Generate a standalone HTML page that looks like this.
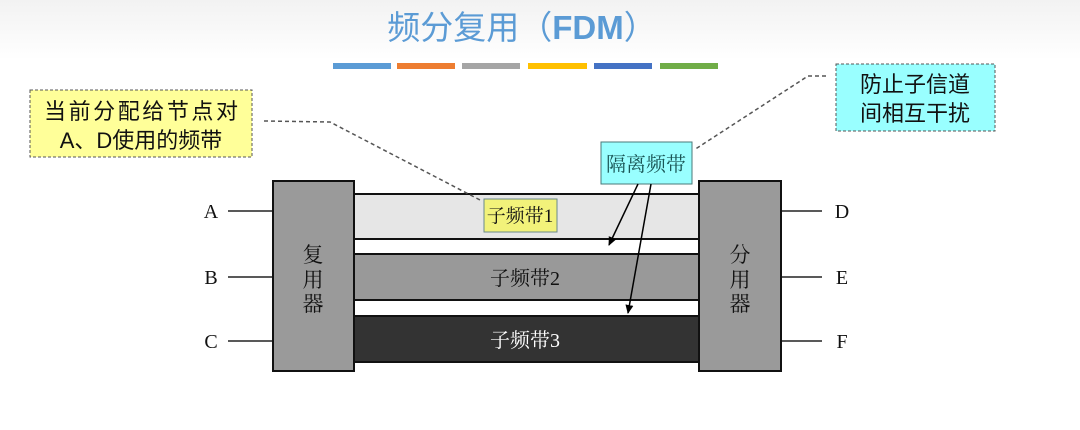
<!DOCTYPE html>
<html><head><meta charset="utf-8"><style>
body{margin:0;width:1080px;height:430px;background:#fff;overflow:hidden;font-family:"Liberation Sans","Noto Sans CJK SC",sans-serif}
</style></head><body>
<svg width="1080" height="430" xmlns="http://www.w3.org/2000/svg" style="position:absolute;left:0;top:0">
<defs><linearGradient id="bg" x1="0" y1="0" x2="0" y2="1"><stop offset="0" stop-color="#f2f2f2"/><stop offset="1" stop-color="#fff"/></linearGradient>
<marker id="ah" markerWidth="10" markerHeight="10" refX="8" refY="5" orient="auto" markerUnits="userSpaceOnUse"><path d="M0,1 L9,5 L0,9 z" fill="#000"/></marker></defs>
<rect x="0" y="0" width="1080" height="60" fill="url(#bg)"/>
<text x="522" y="39" text-anchor="middle" font-size="33" fill="#5b9bd5" font-family="Liberation Sans,Noto Sans CJK SC,sans-serif">频分复用（<tspan font-weight="bold">FDM</tspan>）</text>
<rect x="333" y="63" width="58" height="6" fill="#5b9bd5"/>
<rect x="397" y="63" width="58" height="6" fill="#ed7d31"/>
<rect x="462" y="63" width="58" height="6" fill="#a5a5a5"/>
<rect x="528" y="63" width="59" height="6" fill="#ffc000"/>
<rect x="594" y="63" width="58" height="6" fill="#4472c4"/>
<rect x="660" y="63" width="58" height="6" fill="#70ad47"/>
<g stroke="#222" stroke-width="1.5">
<line x1="228" y1="211" x2="273" y2="211"/><line x1="228" y1="277" x2="273" y2="277"/><line x1="228" y1="341" x2="273" y2="341"/>
<line x1="781" y1="211" x2="822" y2="211"/><line x1="781" y1="277" x2="822" y2="277"/><line x1="781" y1="341" x2="822" y2="341"/>
</g>
<rect x="354" y="194" width="345" height="45" fill="#e6e6e6" stroke="#111" stroke-width="2"/>
<rect x="354" y="254" width="345" height="46" fill="#999" stroke="#111" stroke-width="2"/>
<rect x="354" y="316" width="345" height="46" fill="#333" stroke="#111" stroke-width="2"/>
<rect x="273" y="181" width="81" height="190" fill="#9a9a9a" stroke="#111" stroke-width="2"/>
<rect x="699" y="181" width="82" height="190" fill="#9a9a9a" stroke="#111" stroke-width="2"/>
<g font-family="Liberation Serif,Noto Serif CJK SC,serif" font-size="21" fill="#111" text-anchor="middle">
<text x="313" y="262">复</text><text x="313" y="287">用</text><text x="313" y="311">器</text>
<text x="740" y="262">分</text><text x="740" y="287">用</text><text x="740" y="311">器</text>
</g>
<g font-family="Liberation Serif,Noto Serif CJK SC,serif" font-size="20" fill="#111" text-anchor="middle">
<text x="211" y="218">A</text><text x="211" y="284">B</text><text x="211" y="348">C</text>
<text x="842" y="218">D</text><text x="842" y="284">E</text><text x="842" y="348">F</text>
<text x="525" y="285">子频带2</text>
<text x="525" y="347" fill="#fff">子频带3</text>
</g>
<rect x="484" y="199" width="73" height="33" fill="#f2f27a" stroke="#6a8a8a" stroke-width="1"/>
<text x="520" y="222" text-anchor="middle" font-family="Liberation Serif,Noto Serif CJK SC,serif" font-size="19" fill="#111">子频带1</text>
<g stroke="#555" stroke-width="1.5" stroke-dasharray="4,3" fill="none">
<polyline points="264,121 330,122 480,200"/>
<polyline points="826,76 808,76 694,150"/>
</g>
<rect x="30" y="90" width="222" height="67" fill="#ffff99" stroke="#555" stroke-dasharray="3,2"/>
<text x="141" y="119" text-anchor="middle" font-size="22" fill="#111" textLength="194">当前分配给节点对</text>
<text x="141" y="148" text-anchor="middle" font-size="22" fill="#111">A、D使用的频带</text>
<rect x="836" y="64" width="159" height="67" fill="#99ffff" stroke="#555" stroke-dasharray="3,2"/>
<text x="915" y="92" text-anchor="middle" font-size="22" fill="#111">防止子信道</text>
<text x="915" y="121" text-anchor="middle" font-size="22" fill="#111">间相互干扰</text>
<rect x="601" y="142" width="91" height="42" fill="#99ffff" stroke="#4a7a7a" stroke-width="1"/>
<text x="646" y="171" text-anchor="middle" font-family="Liberation Serif,Noto Serif CJK SC,serif" font-size="20" fill="#1a5555">隔离频带</text>
<g stroke="#000" stroke-width="1.5">
<line x1="638" y1="184" x2="609" y2="245" marker-end="url(#ah)"/>
<line x1="651" y1="184" x2="628" y2="313" marker-end="url(#ah)"/>
</g>
</svg>
</body></html>
